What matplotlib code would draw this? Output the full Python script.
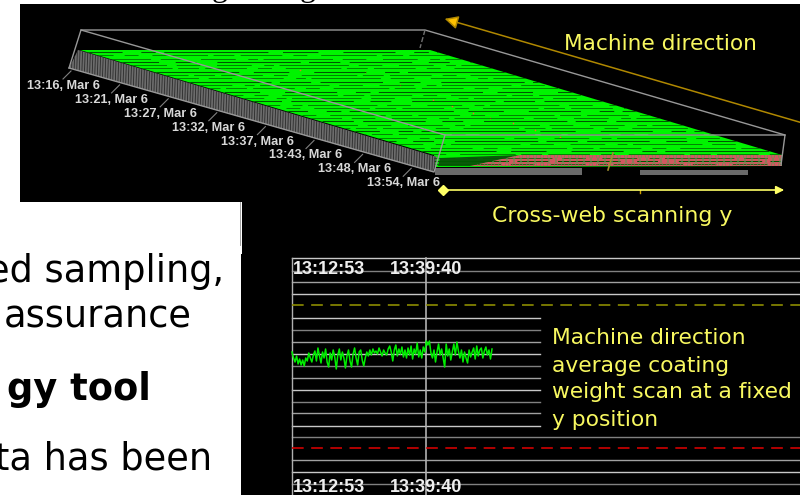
import matplotlib
matplotlib.use('Agg')
from matplotlib import pyplot as plt
from matplotlib.patches import Polygon, Rectangle
from matplotlib.collections import LineCollection
import numpy as np

plt.rcParams['font.family'] = ['DejaVu Sans']

time_labels = ['13:16, Mar 6', '13:21, Mar 6', '13:27, Mar 6', '13:32, Mar 6',
               '13:37, Mar 6', '13:43, Mar 6', '13:48, Mar 6', '13:54, Mar 6']
trace_times = ['13:12:53', '13:39:40']
page_lines = ['ed sampling,', 'assurance', 'gy tool', 'ta has been']
note_lines = ['Machine direction', 'average coating', 'weight scan at a fixed', 'y position']

# machine direction coating weight (pixel height)
trace = [352, 358, 362, 356, 364, 359, 365, 360, 366, 358, 361, 353, 358, 362, 355, 351,
         361, 348, 356, 363, 352, 358, 349, 362, 367, 353, 360, 350, 357, 369, 355, 349,
         360, 352, 358, 368, 356, 350, 361, 367, 354, 348, 358, 365, 352, 350, 360, 366,
         358, 352, 356, 350, 355, 349, 353, 351, 354, 348, 352, 356, 350, 353, 355, 349,
         346, 352, 361, 350, 345, 356, 349, 354, 347, 357, 350, 358, 348, 355, 346, 359,
         349, 354, 343, 357, 350, 358, 347, 352, 341, 345, 341, 353, 358, 350, 362, 352,
         344, 355, 349, 358, 367, 344, 356, 349, 360, 352, 344, 355, 342, 351, 358, 350,
         362, 352, 358, 363, 350, 357, 352, 348, 359, 346, 356, 350, 348, 358, 351, 347,
         355, 350, 359, 349]
grid_full = [258, 270.5, 282, 294, 437, 460, 472, 484]
grid_short = [318, 329.5, 342, 353.5, 365.5, 378, 389.5, 401.5, 413, 425.5]
grid_greys = ['#c8c8c8', '#808080', '#a0a0a0']
speck_x = [433, 452, 473, 490, 513, 535, 560, 300, 365, 400]
speck_y = [100, 106, 113, 118, 123, 130, 137, 70, 72, 85]

fig = plt.figure(figsize=(8, 4.95), dpi=100, facecolor='white')
ax = fig.add_axes([0, 0, 1, 1])
ax.set_xlim(0, 800)
ax.set_ylim(495, 0)
ax.axis('off')

# black backgrounds
ax.add_patch(Rectangle((20, 4), 780, 198, fc='black', ec='none'))
ax.add_patch(Rectangle((241, 202), 559, 293, fc='black', ec='none'))
ax.add_patch(Rectangle((240, 202), 2, 52, fc='white', ec='none'))
ax.plot([240, 240], [202, 245], color='#909090', lw=0.6)

# what is left of the heading above the black panel
for gx in (220, 308):
    ax.text(gx, -4, 'g', family='Liberation Serif', fontsize=23, color='black', ha='center', va='baseline')

# surface
top = Polygon([(80, 50), (430, 50), (782, 155), (782, 166), (435, 167), (434, 155)], fc='#00f400', ec='none')
ax.add_patch(top)
rows = np.arange(52, 168, 3.3)
dash_a = (30, 9, 60, 16, 20, 20, 80, 8)
dash_b = (50, 18, 14, 8, 100, 14, 34, 24)
for i, ry in enumerate(rows):
    pat = dash_a if i % 2 else dash_b
    ln, = ax.plot([70, 790], [ry, ry], color='#005800', lw=0.5 if i % 3 else 0.75,
                  ls=((i * 37) % 97, pat), dash_capstyle='butt')
    ln.set_clip_path(top)
ax.scatter(speck_x, speck_y, s=1.5, color='#d08020', linewidths=0)

# dark patch and red end band
dark = Polygon([(438, 166), (440, 158), (520, 155), (478, 166)], fc='#0a5a0a', ec='none')
ax.add_patch(dark)
red = Polygon([(470, 166), (520, 155), (782, 155), (782, 166)], fc='#d05860', ec='none')
ax.add_patch(red)
seg = [[(x, 155), (x + 4, 166)] for x in np.arange(470, 782, 7)]
seg += [[(x + 4, 155), (x, 166)] for x in np.arange(470, 782, 7)]
lc = LineCollection(seg, colors='#50a050', lw=0.4)
ax.add_collection(lc)
lc.set_clip_path(red)
ax.plot([613, 608], [153, 170], color='#a09030', lw=1.2)

# grey side wall
side = Polygon([(78, 50), (69, 68), (433, 172), (437, 157)], fc='#6c6c6c', ec='none')
ax.add_patch(side)
seg = [[(x, 40), (x - 5, 180)] for x in np.arange(70, 440, 2.6)]
lc = LineCollection(seg, colors='#2a2a2a', lw=0.6)
ax.add_collection(lc)
lc.set_clip_path(side)
ax.add_patch(Rectangle((435, 168), 147, 6.5, fc='#6a6a6a', ec='none'))
ax.add_patch(Rectangle((640, 170), 108, 4.5, fc='#6a6a6a', ec='none'))

# box outline
box = [[(81, 30), (425, 30), (785, 135), (781, 165)],
       [(69, 68), (81, 30), (445, 135), (785, 135)],
       [(445, 135), (434, 172), (69, 68)]]
for b in box:
    xs, ys = zip(*b)
    ax.plot(xs, ys, color='#989898', lw=1.0)
ax.plot([425, 420], [30, 48], color='#707070', lw=1, ls='--')

# time ticks and labels
for i, lab in enumerate(time_labels):
    lx = 63 + i * 48.6
    ly = 86 + i * 13.9
    ax.plot([lx, lx + 8], [ly - 7, ly - 15], color='#808080', lw=0.8)
    ax.text(lx, ly, lab, color='#d8d8d8', fontsize=9.2, fontweight='bold', ha='center', va='center', family='Liberation Sans')

# direction arrows
ax.annotate('', xy=(442, 18), xytext=(806, 124),
            arrowprops=dict(arrowstyle='-|>', color='#b08800', lw=1.1, mutation_scale=20, fc='#ffc000', ec='#b08800'))
ax.annotate('', xy=(787, 190), xytext=(443, 190),
            arrowprops=dict(arrowstyle='-|>', color='#ffff66', lw=1.2, mutation_scale=12))
ax.plot([443], [190], marker='D', ms=5, color='#ffff66')
ax.plot([640, 640], [190, 193], color='#d0a000', lw=1)
ax.text(660, 44, 'Machine direction', color='#f8f860', fontsize=15.6, ha='center', va='center')
ax.text(612, 215.5, 'Cross-web scanning y', color='#f8f860', fontsize=15.8, ha='center', va='center')

# lower panel grid
for i, gy in enumerate(grid_full):
    ax.plot([292, 800], [gy, gy], color=grid_greys[i % 3], lw=1)
for i, gy in enumerate(grid_short):
    ax.plot([292, 540], [gy, gy], color=grid_greys[i % 3], lw=1)
ax.plot([292, 292], [258, 495], color='#b0b0b0', lw=1)
ax.plot([426, 426], [258, 495], color='#b0b0b0', lw=1.2)
ax.plot([292, 800], [305, 305], color='#8c8c00', lw=1.2, dashes=(7, 4.5))
ax.plot([292, 800], [448, 448], color='#d00000', lw=1.2, dashes=(7, 4.5))

trace_x = np.linspace(292, 492, len(trace))
ax.plot(trace_x, trace, color='#00ee00', lw=1.1)

for ty in (269, 487):
    ax.text(329, ty, trace_times[0], color='#eeeeee', fontsize=13, fontweight='bold', ha='center', va='center', family='Liberation Sans')
    ax.text(426, ty, trace_times[1], color='#eeeeee', fontsize=13, fontweight='bold', ha='center', va='center', family='Liberation Sans')

for i, note in enumerate(note_lines):
    ax.text(552, [337.5, 365.5, 392.5, 419.5][i], note, color='#f8f860', fontsize=15.7, ha='left', va='center')

# page text on the left
ax.text(224, 282, page_lines[0], color='black', fontsize=26.5, ha='right', va='baseline')
ax.text(192, 327, page_lines[1], color='black', fontsize=26.5, ha='right', va='baseline')
ax.text(151, 400, page_lines[2], color='black', fontsize=26.5, fontweight='bold', ha='right', va='baseline')
ax.text(212, 470, page_lines[3], color='black', fontsize=26.5, ha='right', va='baseline')

fig.savefig('out.png', dpi=100)
